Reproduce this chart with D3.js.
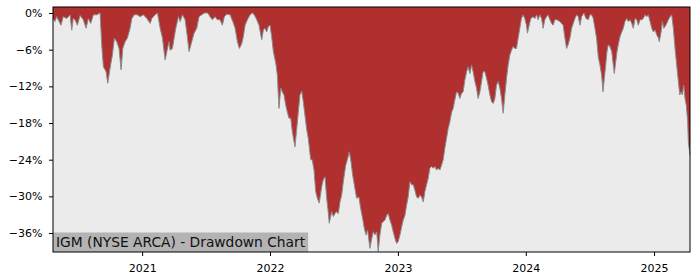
<!DOCTYPE html>
<html><head><meta charset="utf-8">
<script src="https://cdn.jsdelivr.net/npm/d3@7"></script>
<style>body{margin:0;background:#fff}</style></head>
<body><svg id="c" width="700" height="280"></svg>
<script>
// decimal-year dates of each observation
const dateYears = [2020.305,2020.320,2020.334,2020.346,2020.367,2020.385,2020.412,2020.438,2020.451,2020.463,2020.477,2020.495,2020.516,2020.541,2020.563,2020.580,2020.599,2020.620,2020.646,2020.672,2020.685,2020.698,2020.719,2020.732,2020.750,2020.768,2020.784,2020.802,2020.820,2020.836,2020.849,2020.867,2020.885,2020.906,2020.920,2020.938,2020.963,2020.984,2021.010,2021.037,2021.063,2021.076,2021.102,2021.120,2021.141,2021.159,2021.180,2021.198,2021.211,2021.219,2021.237,2021.250,2021.263,2021.284,2021.297,2021.315,2021.336,2021.349,2021.367,2021.388,2021.406,2021.427,2021.445,2021.466,2021.487,2021.513,2021.531,2021.549,2021.570,2021.588,2021.609,2021.627,2021.643,2021.662,2021.688,2021.709,2021.727,2021.745,2021.760,2021.779,2021.791,2021.805,2021.823,2021.844,2021.862,2021.877,2021.896,2021.914,2021.935,2021.948,2021.961,2021.974,2021.987,2022.000,2022.013,2022.026,2022.045,2022.057,2022.070,2022.084,2022.096,2022.109,2022.123,2022.135,2022.148,2022.162,2022.174,2022.195,2022.209,2022.221,2022.234,2022.248,2022.260,2022.273,2022.287,2022.299,2022.318,2022.330,2022.344,2022.357,2022.370,2022.385,2022.404,2022.416,2022.430,2022.443,2022.455,2022.463,2022.482,2022.495,2022.516,2022.534,2022.547,2022.560,2022.573,2022.591,2022.607,2022.620,2022.633,2022.646,2022.659,2022.677,2022.695,2022.709,2022.724,2022.737,2022.750,2022.763,2022.781,2022.795,2022.807,2022.820,2022.834,2022.846,2022.859,2022.873,2022.885,2022.898,2022.912,2022.924,2022.938,2022.951,2022.963,2022.977,2022.990,2023.002,2023.016,2023.029,2023.041,2023.055,2023.068,2023.080,2023.094,2023.107,2023.120,2023.133,2023.146,2023.159,2023.172,2023.185,2023.198,2023.211,2023.224,2023.237,2023.250,2023.263,2023.276,2023.289,2023.302,2023.315,2023.328,2023.341,2023.354,2023.367,2023.380,2023.393,2023.406,2023.420,2023.432,2023.445,2023.459,2023.471,2023.484,2023.498,2023.510,2023.523,2023.537,2023.549,2023.563,2023.576,2023.588,2023.602,2023.615,2023.627,2023.641,2023.654,2023.666,2023.680,2023.693,2023.705,2023.719,2023.732,2023.745,2023.758,2023.771,2023.784,2023.797,2023.810,2023.823,2023.836,2023.849,2023.862,2023.875,2023.888,2023.901,2023.914,2023.927,2023.940,2023.953,2023.966,2023.979,2023.992,2024.005,2024.013,2024.026,2024.039,2024.057,2024.070,2024.084,2024.096,2024.109,2024.123,2024.135,2024.148,2024.162,2024.174,2024.188,2024.201,2024.213,2024.227,2024.240,2024.266,2024.291,2024.305,2024.318,2024.330,2024.344,2024.357,2024.370,2024.383,2024.396,2024.409,2024.422,2024.435,2024.453,2024.469,2024.487,2024.500,2024.513,2024.526,2024.539,2024.552,2024.565,2024.578,2024.591,2024.602,2024.612,2024.623,2024.633,2024.643,2024.656,2024.670,2024.682,2024.690,2024.701,2024.711,2024.721,2024.734,2024.748,2024.760,2024.773,2024.787,2024.799,2024.813,2024.826,2024.838,2024.852,2024.865,2024.877,2024.891,2024.904,2024.916,2024.930,2024.943,2024.955,2024.969,2024.982,2024.995,2025.008,2025.021,2025.034,2025.041,2025.055,2025.065,2025.076,2025.086,2025.099,2025.112,2025.125,2025.138,2025.151,2025.164,2025.177,2025.190,2025.201,2025.211,2025.221,2025.232,2025.242,2025.252,2025.263,2025.268,2025.281];
// drawdown in percent
const drawdownPct = [-0.9,-1.4,-0.6,-1.1,-2.0,-0.6,-0.9,-0.3,-2.8,-0.9,-1.1,-2.0,-0.4,-1.1,-2.5,-0.9,-1.7,-0.3,-0.3,0,-5.2,-8.8,-9.6,-11.5,-9.0,-6.9,-4.1,-4.7,-5.8,-9.3,-5.8,-4.7,-4.1,-2.5,-0.9,-0.3,-0.3,-0.6,-0.3,-0.9,-1.7,-0.9,-0.3,0,-2.5,-4.1,-7.7,-5.8,-4.7,-6.1,-5.8,-4.1,-2.5,-0.6,-1.4,-0.3,-1.1,-3.1,-6.3,-4.7,-3.3,-2.5,-0.6,-0.3,0,0,-0.6,-1.1,-0.6,-1.1,-1.1,-2.0,-0.6,-0.2,-0.3,-1.4,-2.5,-4.7,-5.8,-5.0,-3.9,-2.0,-1.1,-0.3,0,-0.3,-1.1,-2.0,-4.4,-2.8,-2.5,-3.1,-2.2,-2.0,-3.9,-6.3,-8.2,-10.1,-15.6,-12.3,-12.9,-13.4,-15.1,-16.2,-17.2,-17.2,-19.4,-21.9,-18.9,-16.2,-13.4,-12.8,-14.5,-16.7,-19.1,-20.5,-24.0,-24.0,-25.7,-29.2,-30.3,-31.1,-28.4,-27.3,-26.8,-30.3,-32.5,-34.4,-32.5,-33.3,-32.5,-32.8,-30.9,-29.8,-27.6,-25.0,-23.8,-22.7,-24.3,-26.5,-28.1,-30.3,-30.1,-32.0,-33.6,-35.2,-36.3,-35.5,-38.5,-36.9,-35.8,-36.3,-35.8,-39.0,-36.3,-34.4,-34.1,-33.9,-33.1,-32.8,-33.9,-34.7,-35.8,-36.9,-37.7,-37.4,-36.3,-35.0,-33.9,-33.1,-31.4,-30.1,-27.6,-28.1,-28.1,-29.0,-30.1,-30.3,-29.8,-30.1,-30.9,-29.2,-28.1,-27.0,-25.4,-25.1,-25.4,-25.1,-25.7,-25.4,-25.7,-24.9,-24.0,-22.1,-20.5,-18.9,-17.8,-16.2,-15.6,-14.2,-12.9,-13.1,-14.0,-13.1,-12.9,-11.0,-9.6,-8.8,-9.9,-8.5,-9.6,-11.2,-12.3,-14.0,-12.9,-11.2,-9.6,-9.6,-10.7,-11.8,-13.4,-14.5,-14.8,-14.0,-11.8,-11.2,-12.3,-14.0,-16.4,-13.4,-10.7,-8.5,-6.9,-6.1,-5.5,-5.8,-5.8,-4.1,-2.5,-0.9,-0.3,-0.9,-2.0,-3.3,-2.0,-0.9,-0.6,-0.9,-0.3,-1.1,-0.3,-0.9,-2.5,-1.1,-0.6,-0.3,-1.1,-1.7,-2.0,-1.1,-1.1,-1.4,-2.0,-4.1,-5.8,-5.2,-4.1,-2.5,-1.7,-0.9,-0.3,-0.6,-2.0,-0.6,0,-0.9,-1.1,-0.3,-0.3,-0.9,-2.5,-4.1,-7.2,-8.5,-10.1,-12.9,-10.7,-8.5,-6.3,-5.2,-5.5,-6.3,-8.5,-9.9,-8.0,-6.3,-5.2,-3.9,-3.1,-2.5,-1.4,-0.9,-1.4,-1.1,-1.7,-2.5,-0.9,-1.1,-2.0,-1.1,-1.1,-0.9,-0.3,-0.6,-0.3,-1.4,-2.5,-3.1,-2.8,-3.6,-4.1,-4.7,-3.1,-1.4,-2.5,-2.2,-1.7,-1.1,-0.6,-0.3,-2.5,-5.8,-8.5,-11.2,-13.4,-12.9,-13.4,-11.8,-14.0,-15.1,-17.8,-21.1,-23.2];
const yTickValues = [0, -6, -12, -18, -24, -30, -36];
const xTickYears = [2021, 2022, 2023, 2024, 2025];
const titleText = "IGM (NYSE ARCA) - Drawdown Chart";

function toDate(t){
  const yr = Math.floor(t);
  const s = Date.UTC(yr,0,1), e = Date.UTC(yr+1,0,1);
  return new Date(s + (t-yr)*(e-s));
}
const data = dateYears.map((t,i)=>({date: toDate(t), v: drawdownPct[i]}));

const L=53, R=690, T=7, B=252;
const svg = d3.select("#c");
const font = "'DejaVu Sans', sans-serif";

const x = d3.scaleUtc().domain(d3.extent(data, d=>d.date)).range([L, R]);
const y = d3.scaleLinear().domain([-39.1, 0.98]).range([B, T]);

svg.append("rect").attr("x",L).attr("y",T).attr("width",R-L).attr("height",B-T).attr("fill","#ebebeb");

const area = d3.area().x(d=>x(d.date)).y0(T).y1(d=>y(d.v));
svg.append("path").datum(data).attr("d",area).attr("fill","#b03030");
const line = d3.line().x(d=>x(d.date)).y(d=>y(d.v));
svg.append("path").datum(data).attr("d",line).attr("fill","none").attr("stroke","#8a8a8a").attr("stroke-width",1);

// label box
const g = svg.append("g");
const txt = g.append("text").attr("x",L+3).attr("y",B-5.5).attr("font-family",font).attr("font-size",13.8).attr("fill","#111").text(titleText);
const bw = txt.node().getComputedTextLength();
g.insert("rect","text").attr("x",L).attr("y",B-19.5).attr("width",bw+6).attr("height",19.5).attr("fill","#b3b3b3");

// frame
svg.append("rect").attr("x",L).attr("y",T).attr("width",R-L).attr("height",B-T).attr("fill","none").attr("stroke","#000").attr("stroke-width",1);

// axes
const fmt = d => (d<0?"\u2212":"") + Math.abs(d) + "%";
const ya = svg.append("g").attr("transform",`translate(${L},0)`)
  .call(d3.axisLeft(y).tickValues(yTickValues).tickFormat(fmt).tickSize(4).tickPadding(6.5));
const xa = svg.append("g").attr("transform",`translate(0,${B})`)
  .call(d3.axisBottom(x).tickValues(xTickYears.map(v=>toDate(v))).tickFormat(d3.utcFormat("%Y")).tickSize(4).tickPadding(8));
[ya,xa].forEach(a=>{
  a.select(".domain").remove();
  a.selectAll("text").attr("font-family",font).attr("font-size",11).attr("fill","#000");
  a.selectAll("line").attr("stroke","#000");
});
</script></body></html>
